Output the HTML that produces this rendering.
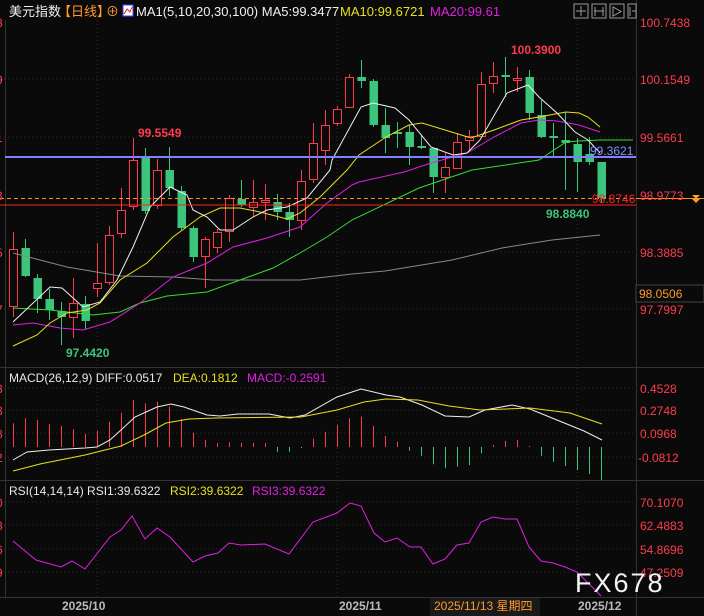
<!DOCTYPE html>
<html><head><meta charset="utf-8"><style>
html,body{margin:0;padding:0;background:#0a0a0a;}
svg{display:block;font-family:"Liberation Sans","Noto Sans CJK SC",sans-serif;}
</style></head><body>
<svg id="s" width="704" height="616" viewBox="0 0 704 616" xmlns="http://www.w3.org/2000/svg">
<rect width="704" height="616" fill="#0a0a0a"/>
<g stroke="#2a2a2a" stroke-dasharray="1,3" stroke-width="1">
<line x1="0" x2="636" y1="79" y2="79"/><line x1="0" x2="636" y1="137" y2="137"/><line x1="0" x2="636" y1="252" y2="252"/><line x1="0" x2="636" y1="309" y2="309"/>
<line x1="337" x2="337" y1="20" y2="597"/><line x1="577" x2="577" y1="20" y2="597"/><line x1="97" x2="97" y1="20" y2="597"/>
<line x1="0" x2="636" y1="388" y2="388"/><line x1="0" x2="636" y1="410" y2="410"/><line x1="0" x2="636" y1="433" y2="433"/><line x1="0" x2="636" y1="457" y2="457"/>
<line x1="0" x2="636" y1="502" y2="502"/><line x1="0" x2="636" y1="525" y2="525"/><line x1="0" x2="636" y1="549" y2="549"/><line x1="0" x2="636" y1="572" y2="572"/>
</g>
<g stroke="#333" stroke-width="1">
<line x1="0" x2="704" y1="367.5" y2="367.5"/><line x1="0" x2="704" y1="480.5" y2="480.5"/><line x1="0" x2="704" y1="597.5" y2="597.5"/>
<line x1="636.5" x2="636.5" y1="0" y2="616"/><line x1="5.5" x2="5.5" y1="20" y2="597"/>
</g>
<g id="cd"></g>
<g fill="none" stroke-width="1">
<polyline stroke="#888" points="13,253 67,267 120,276 173,277 213,280 300,280 352,274 385,271 452,260 502,248 552,240 600,235"/>
<polyline stroke="#33dd33" points="13,308 50,310 93,315 120,312 140,303 167,296 207,292 240,280 273,268 300,253 327,237 352,220 419,188 472,170 539,160 566,142 579,141 600,140 633,140"/>
<polyline stroke="#e020e0" points="13,325 33,323 60,328 83,330 110,322 140,303 173,277 207,263 233,247 267,238 300,227 327,203 352,185 359,182 404,172 431,163 467,153 494,137 521,123 539,120 557,121 579,125 600,132"/>
<polyline stroke="#e8e020" points="13,346 37,335 50,323 67,313 87,310 100,303 120,280 147,263 173,237 200,217 220,208 240,208 260,212 287,219 300,213 320,197 347,170 359,155 386,137 409,125 422,123 445,130 471,138 494,130 521,120 539,117 566,112 579,113 588,117 600,127"/>
<polyline stroke="#f0f0f0" points="13,322 50,287 62,288 83,307 100,302 117,280 133,247 150,207 170,187 187,195 193,210 207,217 220,230 233,230 253,217 267,210 287,207 307,198 330,170 332,160 361,107 373,103 395,108 409,120 431,147 453,155 467,153 480,140 507,93 528,85 539,97 557,113 575,132 588,140 600,153"/>
</g>
<line x1="5" x2="636" y1="157" y2="157" stroke="#8080ff" stroke-width="2"/>
<line x1="0" x2="636" y1="198.5" y2="198.5" stroke="#ff9020" stroke-dasharray="4,3"/>
<line x1="636" x2="704" y1="198.5" y2="198.5" stroke="#ff9020"/>
<line x1="0" x2="636" y1="205" y2="205" stroke="#ff2020"/>
<g font-size="12" font-weight="bold">
<text x="138" y="137" fill="#ff3c4c">99.5549</text>
<text x="511" y="54" fill="#ff3c4c">100.3900</text>
<text x="66" y="357" fill="#3cc47c">97.4420</text>
<text x="546" y="218" fill="#3cc47c">98.8840</text>
<text x="592" y="203" fill="#ff2020" font-weight="normal">98.8746</text>
</g>
<text x="590" y="155" fill="#8090ff" font-size="12">99.3621</text>
<g font-size="12" fill="#ff3c4c">
<text x="640" y="27">100.7438</text><text x="640" y="84">100.1549</text><text x="640" y="142">99.5661</text><text x="640" y="200">98.9773</text><text x="640" y="257">98.3885</text><text x="640" y="314">97.7997</text>
<text x="640" y="393">0.4528</text><text x="640" y="415">0.2748</text><text x="640" y="438">0.0968</text><text x="638" y="462">-0.0812</text>
<text x="640" y="507">70.1070</text><text x="640" y="530">62.4883</text><text x="640" y="554">54.8696</text><text x="640" y="577">47.2509</text>
<text x="-4" y="27">8</text><text x="-4" y="84">9</text><text x="-4" y="142">1</text><text x="-4" y="200">3</text><text x="-4" y="257">5</text><text x="-4" y="314">7</text>
<text x="-4" y="393">8</text><text x="-4" y="415">8</text><text x="-4" y="438">8</text><text x="-4" y="462">2</text>
<text x="-4" y="507">0</text><text x="-4" y="530">3</text><text x="-4" y="554">6</text><text x="-4" y="577">9</text>
</g>
<rect x="636" y="285" width="68" height="17" fill="#0a0a0a" stroke="#444"/>
<text x="639" y="298" font-size="12" fill="#ff9a30">98.0506</text>
<path d="M692,195 h8 l-4,4 z M692,199 h8 l-4,4 z" fill="#ff9a30"/>
<g id="mb"></g>
<polyline fill="none" stroke="#f0f0f0" points="13,460 27,452 49,450 85,448 97,447 110,440 121,430 135,417 157,407 171,404 184,407 207,415 220,416 238,414 269,414 290,418 305,415 337,397 361,389 386,395 400,397 422,405 445,416 469,417 485,410 512,405 530,409 552,418 584,431 602,440"/>
<polyline fill="none" stroke="#e8e020" points="13,471 40,464 85,455 121,446 144,435 166,423 189,419 216,418 301,417 337,410 364,402 386,399 418,400 449,406 480,410 530,408 570,413 602,424"/>
<polyline fill="none" stroke="#e020e0" points="13,541 36,560 61,567 72,561 85,569 110,537 121,530 132,516 145,539 157,528 170,537 193,562 205,556 218,553 229,543 241,545 265,544 289,554 313,522 337,513 350,503 361,506 374,533 385,542 397,538 410,547 421,547 433,564 445,559 457,545 469,543 481,522 493,517 505,519 517,519 529,547 541,561 553,563 565,567 577,572 589,584 601,596"/>
<g font-size="12">
<text x="9" y="382" fill="#e8e8e8">MACD(26,12,9) DIFF:0.0517</text>
<text x="173" y="382" fill="#e8e020">DEA:0.1812</text>
<text x="247" y="382" fill="#e020e0">MACD:-0.2591</text>
<text x="9" y="495" fill="#e8e8e8">RSI(14,14,14) RSI1:39.6322</text>
<text x="170" y="495" fill="#e8e020">RSI2:39.6322</text>
<text x="252" y="495" fill="#e020e0">RSI3:39.6322</text>
</g>
<text x="575" y="592" font-size="27" fill="#f4f4f4" letter-spacing="2">FX678</text>
<g font-size="12" font-weight="bold" fill="#bbb">
<text x="62" y="610">2025/10</text><text x="339" y="610">2025/11</text><text x="578" y="610">2025/12</text>
</g>
<rect x="430" y="598" width="110" height="18" fill="#1a1a1a"/>
<text x="434" y="610" font-size="12" fill="#ff9a30">2025/11/13 星期四</text>
<g font-size="13">
<text x="9" y="16" fill="#f0f0f0">美元指数</text>
<text x="58" y="16" fill="#ff9a30">【日线】</text>
<text x="106" y="16" fill="#ff9a30">⊕</text>
<rect x="123" y="5" width="10" height="11" fill="#fff" stroke="#44f"/>
<polyline points="124,14 127,9 130,12 132,7" fill="none" stroke="#e02020"/>
<text x="136" y="16" fill="#f0f0f0">MA1(5,10,20,30,100) MA5:99.3477</text>
<text x="340" y="16" fill="#e8e020">MA10:99.6721</text>
<text x="430" y="16" fill="#e020e0">MA20:99.61</text>
</g>
<g fill="none" stroke="#999">
<rect x="574" y="4" width="14" height="14"/><rect x="592" y="4" width="14" height="14"/><rect x="610" y="4" width="14" height="14"/><rect x="628" y="4" width="8" height="14"/>
<path d="M581,6v10M576,11h10M595,7v9M603,7v9M594,11h10M613,7v9l8,-4.5z M630,7v9M632,11h4"/>
</g>
</svg>
<script>
var C=[["r",249,306,232,317],["g",248,276,239,277],["g",278,299,274,313],["g",299,310,289,320],["g",311,317,302,345],["r",303,317,278,338],["g",304,321,296,329],["r",283,288,243,297],["r",235,282,226,285],["r",210,233,188,238],["r",160,206,138,210],["g",157,211,148,214],["r",170,205,159,209],["g",170,188,147,196],["g",191,228,186,230],["g",228,257,226,262],["r",239,256,237,288],["r",232,247,229,253],["r",198,231,195,242],["g",199,205,180,207],["r",202,207,180,217],["r",200,202,184,220],["g",202,212,194,220],["g",212,220,203,237],["r",181,220,170,230],["r",143,179,123,183],["r",125,150,110,165],["r",109,123,106,126],["r",77,107,74,108],["g",77,81,60,88],["g",81,125,79,127],["g",125,138,108,153],["g",132,134,122,148],["g",132,147,125,165],["g",146,148,135,149],["g",148,177,148,193],["r",167,177,153,193],["r",142,168,133,168],["r",136,140,130,150],["r",84,136,72,137],["r",76,83,62,93],["g",75,77,57,97],["r",78,80,67,92],["g",77,113,70,120],["g",115,137,100,138],["g",136,138,123,157],["g",140,143,112,190],["g",144,162,138,192],["g",154,162,137,165],["g",162,198,162,203]];
var M=[423.3,418.3,420,424,426,429.3,434,430.7,421.7,412.7,400,403.3,401.7,406.7,419,432.7,440,443.3,442.3,442.7,442.7,443.3,451.7,451.7,448,438.7,431.7,425,418.3,416.7,426,436,441.7,450.7,455.7,464.3,468.3,466.7,465,453.3,445,440.7,440,446,455.7,461.7,466,470,474,480];
var ns="http://www.w3.org/2000/svg",h="",z=447;
for(var i=0;i<C.length;i++){var c=C[i],x=13+12*i,col=c[0]=="r"?"#ff3a4a":"#3cc47c";
var bh=Math.max(1,c[2]-c[1]);
h+='<line x1="'+(x+.5)+'" x2="'+(x+.5)+'" y1="'+c[3]+'" y2="'+c[4]+'" stroke="'+col+'"/>';
if(c[0]=="r")h+='<rect x="'+(x-3.5)+'" y="'+(c[1]+.5)+'" width="8" height="'+bh+'" fill="#0a0a0a" stroke="'+col+'"/>';
else h+='<rect x="'+(x-3.5)+'" y="'+c[1]+'" width="8.5" height="'+bh+'" fill="'+col+'"/>';}
document.getElementById("cd").innerHTML=h;
h="";for(var i=0;i<M.length;i++){var x=13.5+12*i,col=M[i]<z?"#ff3a4a":"#3cc47c";h+='<line x1="'+x+'" x2="'+x+'" y1="'+z+'" y2="'+M[i]+'" stroke="'+col+'"/>';}
document.getElementById("mb").innerHTML=h;
</script>
</body></html>
